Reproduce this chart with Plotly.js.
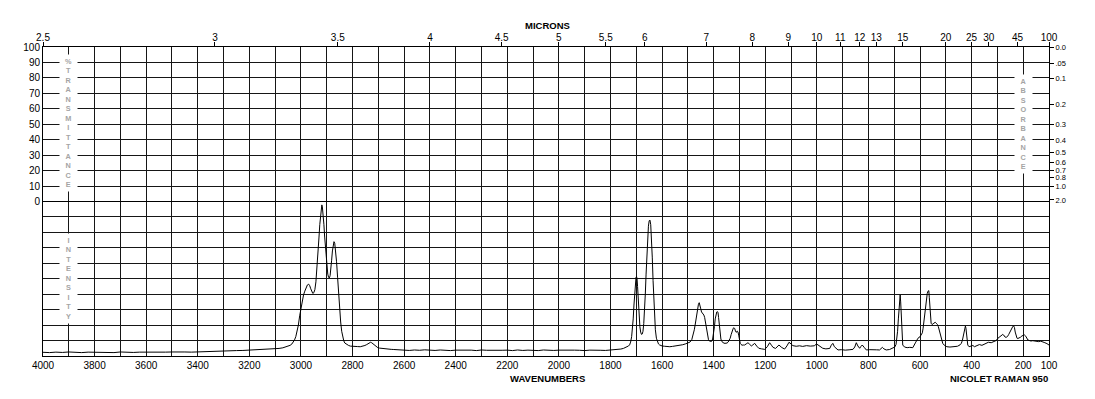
<!DOCTYPE html>
<html>
<head>
<meta charset="utf-8">
<script src="https://cdn.plot.ly/plotly-3.0.1.min.js"></script>
<style>html,body{margin:0;padding:0;background:#fff;}#chart{width:1095px;height:399px;}</style>
</head>
<body>
<div id="chart"></div>
<script>
// Raman spectrum: wavenumber (cm-1) and relative intensity (0-100); each row of wavenumbers matches the row of intensity
const wavenumbers = [
 4000,3975,3950,3925,3900,3875,3850,3825,3800,3775,
 3750,3725,3700,3675,3650,3625,3600,3575,3550,3525,
 3500,3475,3450,3425,3400,3375,3350,3325,3300,3275,
 3250,3225,3200,3175,3150,3125,3100,3085,3070,3060,
 3050,3042,3035,3030,3025,3020,3015,3010,3005,3000,
 2995,2990,2985,2980,2975,2970,2966,2962,2958,2954,
 2950,2946,2942,2938,2934,2930,2927,2924,2921,2919,
 2917,2914,2911,2908,2904,2900,2896,2893,2890,2887,
 2884,2881,2878,2875,2872,2869,2866,2862,2858,2854,
 2850,2846,2842,2838,2834,2830,2822,2815,2808,2800,
 2790,2780,2770,2760,2752,2745,2740,2735,2730,2726,
 2722,2718,2714,2710,2702,2695,2688,2680,2670,2660,
 2650,2640,2625,2610,2600,2580,2560,2540,2520,2500,
 2480,2460,2440,2420,2400,2380,2360,2340,2320,2300,
 2280,2260,2240,2220,2200,2180,2160,2140,2120,2100,
 2080,2060,2040,2020,2000,1980,1960,1940,1920,1900,
 1880,1860,1840,1820,1800,1785,1770,1760,1750,1742,
 1735,1730,1726,1722,1718,1715,1712,1709,1706,1703,
 1701,1699,1697,1695,1692,1689,1686,1683,1680,1677,
 1674,1671,1668,1665,1662,1659,1656,1653,1650,1647,
 1644,1641,1638,1635,1632,1629,1626,1622,1618,1614,
 1610,1605,1600,1590,1580,1570,1560,1550,1540,1530,
 1520,1510,1500,1492,1485,1480,1475,1470,1466,1462,
 1459,1456,1453,1450,1447,1444,1441,1438,1435,1432,
 1428,1424,1420,1416,1412,1408,1404,1400,1397,1394,
 1391,1388,1385,1383,1381,1378,1375,1372,1368,1364,
 1360,1356,1352,1348,1344,1340,1336,1332,1328,1324,
 1321,1318,1315,1312,1309,1306,1303,1300,1297,1294,
 1290,1285,1280,1274,1267,1260,1254,1248,1241,1233,
 1225,1214,1202,1192,1183,1176,1170,1160,1147,1136,
 1125,1116,1108,1100,1093,1080,1067,1055,1040,1025,
 1010,1001,992,985,977,965,950,944,938,932,
 925,918,905,890,875,866,860,853,847,841,
 834,829,824,816,808,795,780,768,757,751,
 746,740,731,718,705,698,693,690,687,684,
 681,679,677,675,673,671,669,667,660,650,
 640,628,618,608,600,595,591,588,584,580,
 576,572,569,566,564,562,559,557,554,550,
 546,541,537,533,529,524,520,516,512,506,
 500,496,484,470,455,445,440,436,432,428,
 426,424,422,420,418,415,410,402,395,389,
 380,370,360,350,342,335,324,315,305,298,
 292,286,282,279,276,273,270,266,261,256,
 251,247,243,240,237,234,231,227,224,221,
 216,210,205,200,195,190,186,182,176,170,
 163,156,148,140,132,124,116,108,100
];
const intensity = [
 2.4,2.2,2.5,2.3,2.6,2.4,2.2,2.5,2.4,2.3,
 2.5,2.2,2.6,2.4,2.3,2.5,2.4,2.6,2.3,2.5,
 2.6,2.4,2.6,2.5,2.7,2.6,2.9,3.0,3.2,3.3,
 3.5,3.6,3.8,3.9,4.1,4.3,4.6,4.9,5.3,5.7,
 6.2,6.9,7.8,8.8,10.4,12.5,15.5,20,26,31,
 36,39.5,42,44.5,46,46.5,45.5,43.5,41.5,40.5,
 41,43,48,56,66,77,85,92,96.5,97.8,
 96.5,92,85,77,67,59,53,51,50.5,52,
 56,62,68,72,74,73,69,61,51,40,
 30,22,16,12,9.8,8.4,7.4,6.8,6.4,6.2,
 6.0,6.1,6.0,6.3,6.8,7.4,8.0,8.6,8.9,8.6,
 8.0,7.2,6.6,6.0,5.4,5.1,4.9,4.8,4.6,4.5,
 4.3,4.2,4.0,3.9,3.8,3.6,3.9,3.7,4.0,3.8,
 3.6,3.9,3.7,3.5,3.8,3.9,3.6,3.8,3.5,3.9,
 3.7,3.6,3.9,3.7,3.8,3.5,3.9,3.6,3.8,3.7,
 3.5,3.9,3.7,3.6,3.8,3.9,3.6,3.8,3.7,3.5,
 3.8,3.9,3.7,3.6,3.8,3.9,4.2,4.5,4.9,5.4,
 5.9,6.5,7.2,9,12.5,17,24,33,42,48.5,
 51,51.5,50,45,34,25,19,15.5,14,14.2,
 16,21,29,40,53,66,77,84,87.5,88,
 85,77,64,49,36,25,17,11.5,9,7.8,
 7.2,6.8,6.5,6.3,6.1,6.0,6.2,6.4,6.6,6.9,
 7.3,7.8,8.3,9,10.5,13,17,22,27.5,31.5,
 33.5,34.5,33,30.5,28.5,28,27.5,26.5,25,21.5,
 16.5,12.5,10.5,9.6,9.3,9.5,11,14.5,19,24,
 27.5,28.5,28.7,28,25,19,14,11,9.3,8.6,
 8.3,8.2,8.2,8.4,9,10,11.5,14,16.5,18,
 18.3,17.6,15.8,15.3,16.2,15.7,13.5,10.5,8.2,7.5,
 7.0,7.1,7.1,7.8,8.6,7.5,6.5,7.2,8.2,6.4,
 5.0,4.6,4.3,6.0,8.6,7.0,5.6,4.9,7.1,5.5,
 4.5,6.5,8.9,7.8,6.7,6.3,6.6,6.2,6.7,6.4,
 6.6,7.8,6.8,6.2,5.0,4.6,4.9,7.0,8.2,6.0,
 4.8,3.9,4.1,3.8,4.0,4.1,4.3,5.8,8.6,6.5,
 5.0,6.2,7.1,5.5,3.9,4.1,3.8,4.0,3.9,4.6,
 5.6,4.6,3.9,4.2,5.0,5.8,7.5,10.4,16,24,
 33,37.5,39.5,35,25,15,9,7.1,5.8,5.4,
 5.6,5.4,8.5,11.5,12.5,13.5,15,18,24,31,
 37,40.5,42,42.3,38,31,24,21.2,20.5,20.6,
 21.3,21.8,21.2,20.5,19,16,13,10.5,8.2,7.0,
 6.4,6.0,5.8,5.9,6.3,7.2,8.2,10,13,17,
 18.5,19.4,18,14.5,10.5,7.1,6.0,6.2,6.8,6.0,
 6.6,7.4,6.9,7.8,8.3,8.9,8.6,9.3,10,11.5,
 12.5,13.3,13.8,14,13.6,12.8,12.2,12.1,12.6,14,
 15.5,17.2,18.6,19.2,19.4,18.5,15.5,12.8,11.5,11.3,
 11.6,12.2,13,13.5,13.6,12.8,11.5,10.4,10.0,9.7,
 9.9,9.7,9.5,9.3,9.6,9.3,8.6,8.0,7.1
];
// top axis: microns
const micronLabels = ['2.5','3','3.5','4','4.5','5','5.5','6','7','8','9','10','11','12','13','15','20','25','30','45','100'];
const micronValues = [2.5,3,3.5,4,4.5,5,5.5,6,7,8,9,10,11,12,13,15,20,25,30,45,100];
// right axis: absorbance
const absorbanceLabels = ['0.0','.05','0.1','0.2','0.3','0.4','0.5','0.6','0.7','0.8','1.0','2.0'];
const absorbanceValues = [0,0.05,0.1,0.2,0.3,0.4,0.5,0.6,0.7,0.8,1.0,2.0];
// left axis: % transmittance
const transmittanceTicks = [0,10,20,30,40,50,60,70,80,90,100];
// bottom axis: wavenumbers
const wavenumberLabels = [4000,3800,3600,3400,3200,3000,2800,2600,2400,2200,2000,1800,1600,1400,1200,1000,800,600,400,200,100];

const FONT = 'Liberation Sans, Arial, sans-serif';
const GRID = '#161616';

const gridVals = [];
for (let v = 4000; v >= 100; v -= 100) gridVals.push(v);
const gridText = gridVals.map(v => wavenumberLabels.includes(v) ? String(v) : '');

const micronWn = micronValues.map(m => 10000 / m);
const absT = absorbanceValues.map(a => 100 * Math.pow(10, -a));

const trace = {
  x: wavenumbers, y: intensity, xaxis: 'x', yaxis: 'y2',
  type: 'scatter', mode: 'lines',
  line: {color: '#000', width: 1}, hoverinfo: 'skip'
};
const dummyTop = {x: [4000], y: [200], xaxis: 'x', yaxis: 'y', mode: 'markers', marker: {opacity: 0}, hoverinfo: 'skip'};
const dummyTop2 = {x: [4000], y: [200], xaxis: 'x2', yaxis: 'y3', mode: 'markers', marker: {opacity: 0}, hoverinfo: 'skip'};

function stack(s) { return '<b>' + s.split('').join('<br>') + '</b>'; }
const letterFont = {family: FONT, size: 7.3, color: '#a4a4a4'};

const layout = {
  width: 1095, height: 399,
  margin: {l: 43, r: 46, t: 47, b: 43, pad: 0},
  paper_bgcolor: '#fff', plot_bgcolor: '#fff',
  showlegend: false,
  font: {family: FONT, size: 10, color: '#000'},
  xaxis: {
    range: [4000, 100], tickmode: 'array', tickvals: gridVals, ticktext: gridText,
    showgrid: true, gridcolor: GRID, gridwidth: 1, zeroline: false,
    showline: true, linecolor: '#000', linewidth: 1, mirror: true,
    ticks: '', anchor: 'y2', tickfont: {family: FONT, size: 10, color: '#000'}
  },
  xaxis2: {
    range: [4000, 100], overlaying: 'x', side: 'top', anchor: 'y',
    tickmode: 'array', tickvals: micronWn, ticktext: micronLabels,
    ticks: 'outside', ticklen: 4, tickcolor: '#000', tickwidth: 1, ticklabelstandoff: -3,
    showgrid: false, zeroline: false, showline: true, linecolor: '#000',
    tickfont: {family: FONT, size: 10, color: '#000'}
  },
  yaxis: {
    domain: [0.5, 1], range: [0, 100], tickmode: 'array', tickvals: transmittanceTicks,
    showgrid: true, gridcolor: GRID, gridwidth: 1, zeroline: false,
    showline: true, linecolor: '#000', mirror: true, ticks: '', anchor: 'x',
    tickfont: {family: FONT, size: 10, color: '#000'}
  },
  yaxis2: {
    domain: [0, 0.5], range: [0, 100], dtick: 10, tick0: 0,
    showgrid: true, gridcolor: GRID, gridwidth: 1, zeroline: false,
    showline: true, linecolor: '#000', mirror: true, ticks: '', showticklabels: false, anchor: 'x'
  },
  yaxis3: {
    overlaying: 'y', side: 'right', anchor: 'x', range: [0, 100],
    tickmode: 'array', tickvals: absT, ticktext: absorbanceLabels,
    ticks: 'outside', ticklen: 4, tickcolor: '#000', showgrid: false, zeroline: false,
    showline: false, tickfont: {family: FONT, size: 7.5, color: '#000'}
  },
  annotations: [
    {text: '<b>MICRONS</b>', xref: 'paper', yref: 'paper', x: 0.501, y: 1.068, xanchor: 'center', yanchor: 'middle', showarrow: false, font: {family: FONT, size: 9.5, color: '#000'}},
    {text: '<b>WAVENUMBERS</b>', xref: 'paper', yref: 'paper', x: 0.501, y: -0.074, xanchor: 'center', yanchor: 'middle', showarrow: false, font: {family: FONT, size: 9.5, color: '#000'}},
    {text: '<b>NICOLET RAMAN 950</b>', xref: 'paper', yref: 'paper', x: 1.001, xanchor: 'right', y: -0.074, yanchor: 'middle', showarrow: false, font: {family: FONT, size: 9.5, color: '#000'}},
    {text: stack('%TRANSMITTANCE'), xref: 'x', yref: 'y', x: 3900, y: 50.5, xanchor: 'center', yanchor: 'middle', showarrow: false, bgcolor: '#fff', width: 13, borderpad: 2, font: letterFont},
    {text: stack('INTENSITY'), xref: 'x', yref: 'y2', x: 3900, y: 50, xanchor: 'center', yanchor: 'middle', showarrow: false, bgcolor: '#fff', width: 13, borderpad: 2, font: letterFont},
    {text: stack('ABSORBANCE'), xref: 'x', yref: 'y', x: 200, y: 50, xanchor: 'center', yanchor: 'middle', showarrow: false, bgcolor: '#fff', width: 13, borderpad: 2, font: letterFont}
  ]
};

Plotly.newPlot('chart', [dummyTop, dummyTop2, trace], layout, {staticPlot: true, displayModeBar: false});
</script>
</body>
</html>
